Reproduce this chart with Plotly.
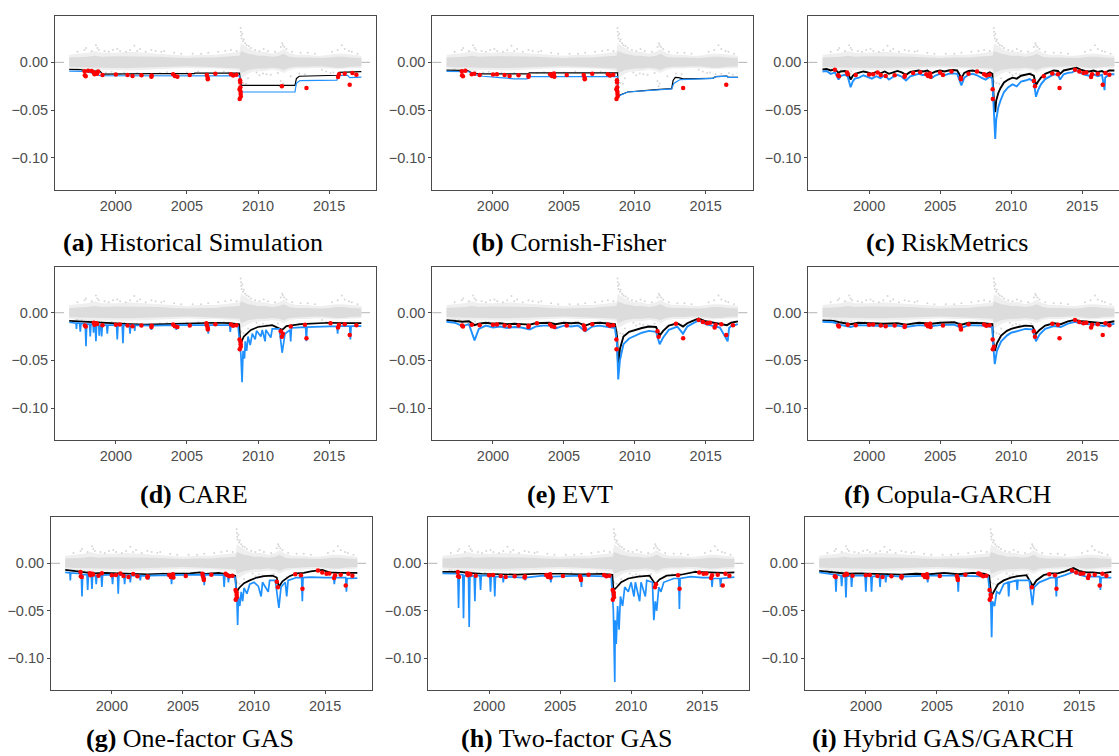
import numpy as np
import plotly.graph_objects as go

# ---------------- data ----------------
# return cloud (shared by all panels): envelope of the dense dot cloud
cloud_year = [1996.72, 1997.5, 1998.0, 1998.5, 1999.0, 2000.0, 2001.0, 2002.0, 2003.0, 2004.0, 2005.0,
              2006.0, 2007.0, 2007.6, 2008.3, 2008.7, 2008.8, 2009.0, 2009.3, 2009.7, 2010.0, 2010.5,
              2011.0, 2011.5, 2011.8, 2012.2, 2012.7, 2013.5, 2014.0, 2014.5, 2015.0, 2015.5, 2016.0,
              2016.5, 2017.27]
cloud_outer_hi = [0.008, 0.009, 0.010, 0.012, 0.010, 0.010, 0.011, 0.010, 0.009, 0.008, 0.007,
                  0.008, 0.008, 0.009, 0.010, 0.011, 0.020, 0.018, 0.015, 0.012, 0.011, 0.011,
                  0.009, 0.011, 0.014, 0.010, 0.008, 0.008, 0.007, 0.007, 0.008, 0.009, 0.009,
                  0.008, 0.007]
cloud_outer_lo = [-0.0065, -0.007, -0.008, -0.0095, -0.008, -0.008, -0.0085, -0.008, -0.007, -0.0065, -0.0058,
                  -0.0065, -0.0065, -0.007, -0.008, -0.009, -0.016, -0.015, -0.012, -0.0095, -0.009, -0.009,
                  -0.0075, -0.009, -0.011, -0.008, -0.0065, -0.0065, -0.0058, -0.0058, -0.0065, -0.007, -0.007,
                  -0.0065, -0.0058]
cloud_core_hi = [0.005, 0.0055, 0.006, 0.007, 0.006, 0.0065, 0.0065, 0.006, 0.006, 0.005, 0.0045,
                 0.005, 0.005, 0.006, 0.0065, 0.007, 0.012, 0.011, 0.009, 0.008, 0.007, 0.007,
                 0.006, 0.007, 0.009, 0.006, 0.005, 0.005, 0.0045, 0.0045, 0.005, 0.006, 0.006,
                 0.005, 0.0045]
cloud_core_lo = [-0.0045, -0.005, -0.0055, -0.006, -0.0055, -0.0058, -0.0058, -0.0055, -0.0055, -0.0045, -0.004,
                 -0.0045, -0.0045, -0.0055, -0.006, -0.0063, -0.011, -0.010, -0.008, -0.007, -0.0063, -0.0063,
                 -0.0055, -0.0063, -0.008, -0.0055, -0.0045, -0.0045, -0.004, -0.004, -0.0045, -0.0055, -0.0055,
                 -0.0045, -0.004]
# scattered large positive returns
gray_pts = [(1997.3, 0.011), (1997.8, 0.013), (1997.9, 0.015), (1998.3, 0.012), (1998.6, 0.018), (1998.7, 0.015),
            (1998.8, 0.013), (1999.2, 0.012), (1999.5, 0.011), (1999.8, 0.013), (2000.1, 0.014), (2000.3, 0.012),
            (2000.7, 0.011), (2001.0, 0.013), (2001.3, 0.0175), (2001.5, 0.012), (2001.7, 0.014), (2002.1, 0.011),
            (2002.5, 0.013), (2002.8, 0.012), (2003.2, 0.011), (2003.4, 0.012), (2004.1, 0.010), (2004.6, 0.009),
            (2005.4, 0.009), (2006.0, 0.009), (2006.5, 0.010), (2007.2, 0.011), (2007.7, 0.012), (2008.1, 0.013),
            (2008.5, 0.012), (2008.78, 0.036), (2008.80, 0.032), (2008.82, 0.028), (2008.85, 0.025), (2008.90, 0.030),
            (2008.95, 0.022), (2009.0, 0.024), (2009.1, 0.020), (2009.2, 0.018), (2009.35, 0.017), (2009.5, 0.015),
            (2009.8, 0.013), (2010.1, 0.012), (2010.4, 0.014), (2010.7, 0.012), (2011.2, 0.011), (2011.6, 0.016),
            (2011.7, 0.020), (2011.75, 0.018), (2011.85, 0.016), (2012.0, 0.014), (2012.4, 0.011), (2013.0, 0.010),
            (2013.5, 0.010), (2014.0, 0.009), (2015.2, 0.011), (2015.6, 0.013), (2015.9, 0.018), (2016.1, 0.014),
            (2016.4, 0.012), (2016.6, 0.011), (2017.0, 0.009)]
# large negative returns (candidate VaR violations, shared)
tail_pts = [(1997.20, -0.0074), (1997.35, -0.0072), (1997.59, -0.0077), (1997.80, -0.0092), (1997.82, -0.0135),
            (1997.88, -0.0145), (1998.05, -0.0088), (1998.30, -0.0090), (1998.45, -0.0105), (1998.50, -0.0125),
            (1998.62, -0.0110), (1998.68, -0.0118), (1998.75, -0.0095), (1999.06, -0.0132), (1999.30, -0.0105),
            (1999.70, -0.0098), (2000.00, -0.0127), (2000.28, -0.0123), (2000.60, -0.0106), (2000.82, -0.0133),
            (2001.17, -0.0143), (2001.50, -0.0112), (2001.80, -0.0135), (2002.50, -0.0150), (2002.52, -0.0137),
            (2003.10, -0.0110), (2003.60, -0.0104), (2004.03, -0.0123), (2004.15, -0.0143), (2004.30, -0.0116),
            (2004.33, -0.0150), (2005.00, -0.0105), (2005.20, -0.0133), (2005.80, -0.0096), (2006.37, -0.0110),
            (2006.40, -0.0133), (2006.46, -0.0160), (2006.47, -0.0177), (2007.00, -0.0120), (2007.60, -0.0096),
            (2007.90, -0.0106), (2008.00, -0.0110), (2008.10, -0.0123), (2008.25, -0.0137), (2008.48, -0.0130),
            (2008.70, -0.0280), (2008.71, -0.0384), (2008.74, -0.0186), (2008.75, -0.0210), (2008.76, -0.0260),
            (2008.77, -0.0306), (2008.78, -0.0330), (2008.79, -0.0358), (2008.80, -0.0200), (2008.97, -0.0216),
            (2009.16, -0.0223), (2009.30, -0.0165), (2009.90, -0.0106), (2010.10, -0.0135), (2010.35, -0.0116),
            (2010.60, -0.0125), (2010.90, -0.0130), (2011.40, -0.0112), (2011.60, -0.0195), (2011.68, -0.0251),
            (2011.75, -0.0220), (2012.30, -0.0145), (2012.90, -0.0116), (2013.30, -0.0125), (2013.41, -0.0268),
            (2014.50, -0.0076), (2014.80, -0.0096), (2015.10, -0.0110), (2015.30, -0.0106), (2015.63, -0.0154),
            (2015.70, -0.0125), (2016.10, -0.0120), (2016.45, -0.0234), (2016.64, -0.0110), (2016.92, -0.0130)]

# ---- VaR (black) and ES (blue) per model ----
hs_var = [(1996.72, -0.0073), (1997.5, -0.0075), (1997.85, -0.0085), (1998.5, -0.009), (1998.9, -0.0095),
          (1999.05, -0.0123), (2002.5, -0.0125), (2002.55, -0.0118), (2005.5, -0.0118), (2005.55, -0.0113),
          (2008.7, -0.0113), (2008.75, -0.018), (2008.85, -0.024), (2012.6, -0.024), (2012.7, -0.017),
          (2012.9, -0.0145), (2015.6, -0.0135), (2015.7, -0.0105), (2017.27, -0.0097)]
hs_es = [(1996.72, -0.0091), (1997.85, -0.0095), (1998.4, -0.0115), (1998.9, -0.014), (2008.7, -0.0142),
         (2008.75, -0.022), (2008.85, -0.031), (2012.6, -0.031), (2012.7, -0.022), (2012.95, -0.019),
         (2015.55, -0.0185), (2015.65, -0.014), (2016.3, -0.0135), (2016.45, -0.016), (2017.27, -0.0155)]

cf_var = [(1996.72, -0.0082), (1998.2, -0.0085), (1998.5, -0.011), (1999.0, -0.012), (2002.5, -0.012),
          (2002.55, -0.011), (2008.79, -0.011), (2008.81, -0.035), (2009.5, -0.031),
          (2010.5, -0.0295), (2011.5, -0.0285), (2012.6, -0.0275), (2012.7, -0.019), (2012.85, -0.0158),
          (2013.1, -0.016), (2013.4, -0.0172), (2015.5, -0.0168), (2015.7, -0.015), (2016.5, -0.0145),
          (2016.6, -0.0158), (2017.27, -0.0158)]
cf_es = [(1996.72, -0.0095), (1998.3, -0.0098), (1998.6, -0.0125), (1999.3, -0.0145), (2000.5, -0.016),
         (2001.5, -0.0172), (2002.4, -0.0172), (2002.55, -0.015), (2008.79, -0.0148),
         (2008.81, -0.0355), (2009.5, -0.031), (2010.5, -0.0297), (2011.5, -0.0287), (2012.6, -0.0277),
         (2012.75, -0.022), (2013.2, -0.018), (2015.5, -0.0168), (2015.7, -0.015), (2016.5, -0.0145),
         (2016.6, -0.0158), (2017.27, -0.0158)]

rm_var = [(1996.72, -0.0075), (1997.0, -0.007), (1997.3, -0.0085), (1997.6, -0.0072), (1997.85, -0.011),
          (1998.0, -0.0095), (1998.3, -0.009), (1998.5, -0.0105), (1998.7, -0.018), (1998.85, -0.014),
          (1999.0, -0.012), (1999.3, -0.011), (1999.6, -0.0095), (1999.9, -0.0105), (2000.2, -0.012),
          (2000.5, -0.010), (2000.8, -0.0115), (2001.1, -0.0095), (2001.4, -0.012), (2001.7, -0.0105),
          (2002.0, -0.009), (2002.3, -0.0105), (2002.6, -0.013), (2002.9, -0.010), (2003.2, -0.0095),
          (2003.5, -0.0085), (2003.8, -0.0095), (2004.1, -0.0085), (2004.4, -0.0115), (2004.7, -0.0095),
          (2005.0, -0.0085), (2005.3, -0.0095), (2005.6, -0.0085), (2005.9, -0.008), (2006.2, -0.0085),
          (2006.5, -0.0165), (2006.7, -0.011), (2007.0, -0.009), (2007.3, -0.0085), (2007.6, -0.0095),
          (2007.9, -0.011), (2008.2, -0.0125), (2008.5, -0.0105), (2008.68, -0.012), (2008.72, -0.025),
          (2008.80, -0.045), (2008.88, -0.052), (2008.95, -0.040), (2009.1, -0.032), (2009.25, -0.027),
          (2009.5, -0.021), (2009.8, -0.018), (2010.1, -0.016), (2010.4, -0.017), (2010.7, -0.014),
          (2011.0, -0.013), (2011.3, -0.012), (2011.6, -0.014), (2011.75, -0.024), (2011.9, -0.020),
          (2012.1, -0.016), (2012.4, -0.012), (2012.7, -0.0105), (2013.0, -0.0085), (2013.3, -0.009),
          (2013.45, -0.012), (2013.7, -0.0085), (2014.0, -0.0075), (2014.3, -0.007), (2014.6, -0.0055),
          (2014.9, -0.0075), (2015.2, -0.009), (2015.5, -0.0095), (2015.8, -0.0085), (2016.1, -0.010),
          (2016.4, -0.009), (2016.6, -0.011), (2016.9, -0.0085), (2017.27, -0.0085)]
rm_es = [(1996.72, -0.0095), (1997.0, -0.009), (1997.3, -0.012), (1997.6, -0.0105), (1997.85, -0.018),
         (1998.0, -0.014), (1998.3, -0.013), (1998.5, -0.015), (1998.7, -0.026), (1998.85, -0.020),
         (1999.0, -0.017), (1999.3, -0.016), (1999.6, -0.0135), (1999.9, -0.015), (2000.2, -0.017),
         (2000.5, -0.0145), (2000.8, -0.0165), (2001.1, -0.0135), (2001.4, -0.018), (2001.7, -0.015),
         (2002.0, -0.013), (2002.3, -0.015), (2002.6, -0.019), (2002.9, -0.0145), (2003.2, -0.0135),
         (2003.5, -0.012), (2003.8, -0.0135), (2004.1, -0.012), (2004.4, -0.0165), (2004.7, -0.0135),
         (2005.0, -0.012), (2005.3, -0.0135), (2005.6, -0.012), (2005.9, -0.0115), (2006.2, -0.012),
         (2006.5, -0.024), (2006.7, -0.016), (2007.0, -0.013), (2007.3, -0.012), (2007.6, -0.0135),
         (2007.9, -0.016), (2008.2, -0.018), (2008.5, -0.015), (2008.68, -0.017), (2008.75, -0.040),
         (2008.88, -0.080), (2008.95, -0.060), (2009.1, -0.047), (2009.25, -0.040), (2009.5, -0.031),
         (2009.8, -0.026), (2010.1, -0.023), (2010.4, -0.025), (2010.7, -0.020), (2011.0, -0.019),
         (2011.3, -0.0175), (2011.6, -0.020), (2011.75, -0.036), (2011.9, -0.029), (2012.1, -0.023),
         (2012.4, -0.0175), (2012.7, -0.015), (2013.0, -0.0125), (2013.3, -0.013), (2013.45, -0.018),
         (2013.7, -0.0125), (2014.0, -0.011), (2014.3, -0.0105), (2014.6, -0.008), (2014.9, -0.011),
         (2015.2, -0.013), (2015.5, -0.014), (2015.8, -0.0125), (2016.1, -0.0145), (2016.4, -0.013),
         (2016.58, -0.029), (2016.62, -0.016), (2016.9, -0.0125), (2017.27, -0.0125)]

care_var = [(1996.72, -0.0085), (1998.0, -0.0095), (1999.0, -0.011), (2000.0, -0.0115), (2001.0, -0.012),
            (2002.0, -0.0125), (2003.0, -0.012), (2004.0, -0.012), (2005.0, -0.0115), (2006.0, -0.011),
            (2007.0, -0.0105), (2008.0, -0.011), (2008.68, -0.012), (2008.74, -0.028), (2008.85, -0.030),
            (2009.0, -0.025), (2009.5, -0.018), (2010.0, -0.015), (2011.0, -0.013), (2011.7, -0.018),
            (2012.0, -0.014), (2013.0, -0.012), (2014.0, -0.011), (2015.0, -0.0105), (2016.0, -0.011),
            (2017.27, -0.011)]
care_es = [(1996.72, -0.010), (1997.2, -0.011), (1997.23, -0.017), (1997.26, -0.011), (1997.45, -0.011),
           (1997.5, -0.020), (1997.55, -0.011), (1997.85, -0.012), (1997.9, -0.035), (1997.95, -0.012),
           (1998.15, -0.012), (1998.2, -0.025), (1998.25, -0.012), (1998.4, -0.012), (1998.43, -0.021),
           (1998.46, -0.012), (1998.55, -0.013), (1998.6, -0.030), (1998.65, -0.013), (1998.8, -0.013),
           (1998.83, -0.024), (1998.86, -0.013), (1998.95, -0.013), (1999.0, -0.025), (1999.05, -0.013),
           (1999.35, -0.013), (1999.4, -0.022), (1999.45, -0.013), (2000.05, -0.013), (2000.1, -0.028),
           (2000.15, -0.013), (2000.45, -0.013), (2000.5, -0.032), (2000.55, -0.013), (2000.95, -0.013),
           (2001.0, -0.022), (2001.05, -0.013), (2001.3, -0.013), (2001.33, -0.019), (2001.36, -0.013),
           (2002.45, -0.0135), (2002.5, -0.018), (2002.55, -0.0135), (2004.2, -0.013), (2004.25, -0.018),
           (2004.3, -0.013), (2006.45, -0.013), (2006.5, -0.022), (2006.55, -0.013), (2008.0, -0.013),
           (2008.05, -0.02), (2008.1, -0.013), (2008.6, -0.014), (2008.8, -0.045), (2008.88, -0.073),
           (2008.95, -0.040), (2009.05, -0.048), (2009.1, -0.030), (2009.2, -0.040), (2009.3, -0.025),
           (2009.45, -0.034), (2009.6, -0.022), (2009.8, -0.028), (2009.9, -0.019), (2010.2, -0.025),
           (2010.3, -0.018), (2010.5, -0.030), (2010.55, -0.018), (2010.9, -0.026), (2011.0, -0.017),
           (2011.5, -0.017), (2011.7, -0.042), (2011.9, -0.022), (2012.25, -0.018), (2012.3, -0.030),
           (2012.35, -0.016), (2013.35, -0.015), (2013.4, -0.030), (2013.45, -0.015), (2015.55, -0.014),
           (2015.6, -0.022), (2015.65, -0.014), (2016.45, -0.014), (2016.5, -0.028), (2016.55, -0.014),
           (2017.27, -0.014)]

evt_var = [(1996.72, -0.0077), (1997.3, -0.0085), (1997.85, -0.0095), (1998.3, -0.009), (1998.7, -0.013),
           (1999.0, -0.0115), (1999.5, -0.0105), (2000.0, -0.0115), (2000.5, -0.011), (2001.0, -0.012),
           (2001.5, -0.0115), (2002.0, -0.012), (2002.6, -0.0125), (2003.0, -0.011), (2003.5, -0.0105),
           (2004.0, -0.0105), (2004.4, -0.012), (2005.0, -0.0105), (2005.5, -0.011), (2006.0, -0.0105),
           (2006.5, -0.0135), (2007.0, -0.011), (2007.5, -0.0105), (2008.0, -0.011), (2008.6, -0.012),
           (2008.75, -0.025), (2008.83, -0.060), (2008.95, -0.038), (2009.2, -0.025), (2009.6, -0.020),
           (2010.0, -0.018), (2010.5, -0.016), (2011.0, -0.0145), (2011.5, -0.015), (2011.75, -0.024),
           (2012.0, -0.019), (2012.4, -0.0135), (2013.0, -0.011), (2013.4, -0.0145), (2013.7, -0.011),
           (2014.0, -0.009), (2014.5, -0.006), (2015.0, -0.009), (2015.5, -0.0105), (2016.0, -0.0115),
           (2016.5, -0.013), (2016.8, -0.0105), (2017.27, -0.009)]
evt_es = [(1996.72, -0.0095), (1997.3, -0.0105), (1997.85, -0.014), (1998.3, -0.012), (1998.7, -0.029),
          (1999.0, -0.017), (1999.5, -0.0135), (2000.0, -0.0155), (2000.5, -0.0145), (2001.0, -0.016),
          (2001.5, -0.015), (2002.0, -0.0155), (2002.6, -0.0175), (2003.0, -0.0145), (2003.5, -0.0135),
          (2004.0, -0.0135), (2004.4, -0.0165), (2005.0, -0.0135), (2005.5, -0.0145), (2006.0, -0.0135),
          (2006.5, -0.0195), (2007.0, -0.0145), (2007.5, -0.0135), (2008.0, -0.0145), (2008.6, -0.016),
          (2008.75, -0.033), (2008.83, -0.070), (2008.95, -0.050), (2009.2, -0.033), (2009.6, -0.027),
          (2010.0, -0.024), (2010.5, -0.021), (2011.0, -0.019), (2011.5, -0.020), (2011.75, -0.033),
          (2012.0, -0.026), (2012.4, -0.018), (2013.0, -0.0145), (2013.4, -0.022), (2013.7, -0.0145),
          (2014.0, -0.012), (2014.5, -0.008), (2015.0, -0.012), (2015.5, -0.014), (2016.0, -0.0155),
          (2016.55, -0.030), (2016.65, -0.016), (2016.8, -0.014), (2017.27, -0.012)]

cop_var = [(1996.72, -0.008), (1997.5, -0.0085), (1997.9, -0.010), (1998.7, -0.012), (1999.2, -0.0105),
           (2000.0, -0.011), (2001.0, -0.0115), (2002.0, -0.011), (2002.6, -0.0125), (2003.5, -0.0105),
           (2004.4, -0.0115), (2005.0, -0.0105), (2006.0, -0.010), (2006.5, -0.0125), (2007.0, -0.0105),
           (2008.0, -0.011), (2008.68, -0.012), (2008.74, -0.030), (2008.85, -0.040), (2009.0, -0.032),
           (2009.3, -0.024), (2009.7, -0.019), (2010.0, -0.017), (2010.5, -0.015), (2011.0, -0.0135),
           (2011.5, -0.014), (2011.75, -0.022), (2012.0, -0.018), (2012.4, -0.0135), (2013.0, -0.011),
           (2013.5, -0.012), (2014.0, -0.009), (2014.5, -0.0075), (2015.0, -0.009), (2015.5, -0.0095),
           (2016.0, -0.010), (2016.5, -0.011), (2017.27, -0.009)]
cop_es = [(1996.72, -0.0095), (1997.5, -0.010), (1997.9, -0.0125), (1998.7, -0.015), (1999.2, -0.013),
          (2000.0, -0.0135), (2001.0, -0.014), (2002.0, -0.0135), (2002.6, -0.015), (2003.5, -0.013),
          (2004.4, -0.014), (2005.0, -0.013), (2006.0, -0.0125), (2006.5, -0.016), (2007.0, -0.013),
          (2008.0, -0.0135), (2008.68, -0.015), (2008.75, -0.036), (2008.85, -0.054), (2009.0, -0.040),
          (2009.3, -0.030), (2009.7, -0.024), (2010.0, -0.021), (2010.5, -0.019), (2011.0, -0.017),
          (2011.5, -0.0175), (2011.75, -0.030), (2012.0, -0.023), (2012.4, -0.017), (2013.0, -0.014),
          (2013.5, -0.015), (2014.0, -0.0115), (2014.5, -0.0095), (2015.0, -0.0115), (2015.5, -0.012),
          (2016.0, -0.0125), (2016.5, -0.014), (2017.27, -0.0115)]

gas1_var = [(1996.72, -0.007), (1997.5, -0.0085), (1998.0, -0.0095), (1998.7, -0.0105), (1999.5, -0.010),
            (2000.5, -0.0105), (2001.5, -0.011), (2002.5, -0.0115), (2003.5, -0.011), (2004.5, -0.011),
            (2005.5, -0.0105), (2006.2, -0.0095), (2006.6, -0.011), (2007.5, -0.010), (2008.3, -0.0115),
            (2008.68, -0.013), (2008.74, -0.026), (2008.8, -0.030), (2008.95, -0.026), (2009.3, -0.021),
            (2009.7, -0.018), (2010.2, -0.015), (2010.7, -0.0135), (2011.3, -0.013), (2011.6, -0.015),
            (2011.75, -0.025), (2012.0, -0.019), (2012.5, -0.0135), (2013.0, -0.0105), (2013.5, -0.010),
            (2014.0, -0.0085), (2014.8, -0.007), (2015.3, -0.0095), (2016.0, -0.010), (2017.27, -0.010)]
gas1_es = [(1996.72, -0.0095), (1997.05, -0.010), (1997.08, -0.018), (1997.11, -0.010), (1997.85, -0.011),
           (1997.9, -0.035), (1997.95, -0.012), (1998.25, -0.012), (1998.3, -0.028), (1998.35, -0.012),
           (1998.55, -0.012), (1998.6, -0.027), (1998.65, -0.013), (1998.85, -0.013), (1998.9, -0.022),
           (1998.95, -0.013), (1999.25, -0.0125), (1999.3, -0.025), (1999.35, -0.0125), (2000.0, -0.012),
           (2000.05, -0.022), (2000.1, -0.012), (2000.4, -0.0125), (2000.45, -0.032), (2000.5, -0.0125),
           (2000.85, -0.0125), (2000.9, -0.022), (2000.95, -0.0125), (2001.25, -0.013), (2001.3, -0.020),
           (2001.35, -0.013), (2001.95, -0.013), (2002.0, -0.018), (2002.05, -0.013), (2002.55, -0.0135),
           (2002.6, -0.017), (2002.65, -0.013), (2004.15, -0.0125), (2004.2, -0.022), (2004.25, -0.0125),
           (2006.45, -0.012), (2006.5, -0.023), (2006.55, -0.012), (2007.85, -0.0125), (2007.9, -0.025),
           (2007.95, -0.013), (2008.15, -0.013), (2008.2, -0.020), (2008.25, -0.0135), (2008.68, -0.015),
           (2008.8, -0.040), (2008.85, -0.065), (2008.9, -0.035), (2009.0, -0.045), (2009.1, -0.030),
           (2009.2, -0.040), (2009.3, -0.026), (2009.5, -0.032), (2009.7, -0.022), (2010.0, -0.020),
           (2010.3, -0.024), (2010.5, -0.035), (2010.6, -0.020), (2011.0, -0.030), (2011.1, -0.018),
           (2011.5, -0.018), (2011.75, -0.047), (2011.9, -0.025), (2012.2, -0.020), (2012.3, -0.035),
           (2012.4, -0.018), (2013.0, -0.015), (2013.35, -0.015), (2013.4, -0.040), (2013.45, -0.015),
           (2014.0, -0.0145), (2015.0, -0.015), (2015.6, -0.015), (2015.65, -0.022), (2015.7, -0.015),
           (2016.45, -0.015), (2016.5, -0.030), (2016.55, -0.016), (2017.27, -0.0155)]

gas2_var = [(1996.72, -0.009), (1998.0, -0.009), (1998.5, -0.010), (1999.5, -0.011), (2002.0, -0.012),
            (2003.5, -0.011), (2005.0, -0.011), (2006.5, -0.0115), (2008.0, -0.011), (2008.68, -0.012),
            (2008.74, -0.025), (2008.8, -0.028), (2009.0, -0.025), (2009.3, -0.020), (2009.8, -0.016),
            (2010.5, -0.014), (2011.3, -0.013), (2011.7, -0.022), (2012.0, -0.017), (2012.5, -0.013),
            (2013.5, -0.012), (2014.5, -0.009), (2015.5, -0.0095), (2016.5, -0.010), (2017.27, -0.0095)]
gas2_es = [(1996.72, -0.0105), (1997.8, -0.011), (1997.85, -0.047), (1997.9, -0.012), (1998.15, -0.012),
           (1998.2, -0.058), (1998.25, -0.013), (1998.55, -0.013), (1998.6, -0.067), (1998.65, -0.014),
           (1998.95, -0.013), (1999.0, -0.040), (1999.05, -0.013), (1999.35, -0.013), (1999.4, -0.028),
           (1999.45, -0.013), (2000.05, -0.013), (2000.1, -0.030), (2000.15, -0.013), (2000.35, -0.013),
           (2000.4, -0.035), (2000.45, -0.014), (2000.95, -0.014), (2001.0, -0.020), (2001.05, -0.014),
           (2002.5, -0.015), (2002.55, -0.018), (2002.6, -0.015), (2003.8, -0.013), (2004.3, -0.015),
           (2004.35, -0.020), (2004.4, -0.014), (2006.45, -0.013), (2006.5, -0.025), (2006.55, -0.013),
           (2008.6, -0.014), (2008.75, -0.050), (2008.8, -0.090), (2008.85, -0.125), (2008.88, -0.060),
           (2008.95, -0.085), (2009.05, -0.045), (2009.15, -0.070), (2009.25, -0.035), (2009.4, -0.045),
           (2009.55, -0.025), (2009.8, -0.030), (2010.0, -0.020), (2010.2, -0.035), (2010.3, -0.020),
           (2010.6, -0.040), (2010.7, -0.020), (2011.0, -0.035), (2011.1, -0.018), (2011.5, -0.020),
           (2011.6, -0.060), (2011.7, -0.040), (2011.8, -0.050), (2011.95, -0.025), (2012.1, -0.030),
           (2012.3, -0.020), (2013.0, -0.016), (2013.35, -0.016), (2013.4, -0.048), (2013.45, -0.016),
           (2014.2, -0.014), (2015.0, -0.015), (2015.65, -0.015), (2015.7, -0.025), (2015.75, -0.016),
           (2016.25, -0.016), (2016.3, -0.025), (2016.35, -0.016), (2017.27, -0.0145)]

hyb_var = [(1996.72, -0.008), (1997.5, -0.009), (1998.0, -0.010), (1998.7, -0.011), (1999.5, -0.0105),
           (2000.5, -0.011), (2001.5, -0.0115), (2002.5, -0.012), (2003.5, -0.011), (2004.5, -0.0115),
           (2005.5, -0.010), (2006.5, -0.0115), (2007.5, -0.010), (2008.3, -0.011), (2008.68, -0.013),
           (2008.74, -0.028), (2008.82, -0.035), (2009.0, -0.030), (2009.3, -0.022), (2009.7, -0.018),
           (2010.2, -0.015), (2010.7, -0.0135), (2011.3, -0.0125), (2011.75, -0.024), (2012.0, -0.018),
           (2012.5, -0.0125), (2013.0, -0.0105), (2013.5, -0.0105), (2014.0, -0.0085), (2014.6, -0.005),
           (2015.0, -0.008), (2015.5, -0.0095), (2016.0, -0.0095), (2016.6, -0.0105), (2017.27, -0.009)]
hyb_es = [(1996.72, -0.0095), (1997.85, -0.012), (1997.9, -0.030), (1997.95, -0.012), (1998.25, -0.013),
          (1998.3, -0.024), (1998.35, -0.013), (1998.55, -0.013), (1998.6, -0.036), (1998.65, -0.014),
          (1998.95, -0.013), (1999.0, -0.025), (1999.05, -0.013), (1999.95, -0.013), (2000.0, -0.030),
          (2000.05, -0.013), (2000.35, -0.013), (2000.4, -0.030), (2000.45, -0.014), (2000.95, -0.013),
          (2001.0, -0.025), (2001.05, -0.013), (2001.35, -0.013), (2001.4, -0.020), (2001.45, -0.013),
          (2002.5, -0.014), (2002.55, -0.018), (2002.6, -0.014), (2004.3, -0.013), (2004.35, -0.020),
          (2004.4, -0.013), (2006.45, -0.013), (2006.5, -0.030), (2006.55, -0.013), (2008.6, -0.014),
          (2008.8, -0.045), (2008.85, -0.078), (2008.9, -0.040), (2009.05, -0.045), (2009.2, -0.030),
          (2009.4, -0.032), (2009.7, -0.022), (2010.0, -0.020), (2010.05, -0.035), (2010.1, -0.020),
          (2010.6, -0.018), (2010.65, -0.028), (2010.7, -0.018), (2011.5, -0.018), (2011.72, -0.044),
          (2011.85, -0.025), (2012.2, -0.020), (2013.0, -0.015), (2013.35, -0.015), (2013.4, -0.035),
          (2013.45, -0.015), (2014.0, -0.0125), (2014.6, -0.009), (2015.0, -0.012), (2015.5, -0.014),
          (2016.45, -0.014), (2016.5, -0.028), (2016.55, -0.015), (2017.27, -0.015)]

panel_letters = ["a", "b", "c", "d", "e", "f", "g", "h", "i"]
panel_names = ["Historical Simulation", "Cornish-Fisher", "RiskMetrics", "CARE", "EVT",
               "Copula-GARCH", "One-factor GAS", "Two-factor GAS", "Hybrid GAS/GARCH"]
panel_var = [hs_var, cf_var, rm_var, care_var, evt_var, cop_var, gas1_var, gas2_var, hyb_var]
panel_es = [hs_es, cf_es, rm_es, care_es, evt_es, cop_es, gas1_es, gas2_es, hyb_es]
panel_lw = [1.2, 1.2, 1.9, 1.7, 1.9, 1.9, 1.7, 1.7, 1.8]

x_ticks = [2000, 2005, 2010, 2015]
y_ticks = [0.0, -0.05, -0.10]

# ---------------- layout geometry (pixels) ----------------
W, H = 1119, 756
row_px = [(16, 190), (266.5, 440), (517.3, 690)]
col_px = [[(55, 376), (432.3, 752.5), (808.3, 1129)],
          [(55, 376), (432.3, 752.5), (808.3, 1129)],
          [(51, 372), (428.3, 749), (805, 1126)]]
cap_px = [[(193, 243), (569.5, 243), (947, 243)],
          [(194, 494), (570, 494), (947, 494)],
          [(190, 738), (566.7, 738), (943.3, 738)]]
XMIN, XMAX = 1995.72, 2018.30
YMIN, YMAX = -0.1335, 0.0485

BLUE = "#1E90FF"
FRAME = "#4a4a4a"

fig = go.Figure()
layout = dict(width=W, height=H, margin=dict(l=0, r=0, t=0, b=0),
              paper_bgcolor="white", plot_bgcolor="white", showlegend=False)
shapes, annotations = [], []

for k in range(9):
    r, c = divmod(k, 3)
    sfx = "" if k == 0 else str(k + 1)
    xa, ya = "x" + sfx, "y" + sfx
    x0p, x1p = col_px[r][c]
    y0p, y1p = row_px[r]
    xmax = XMAX
    right_cut = x1p > W
    if right_cut:
        xmax = XMIN + (W - x0p) * (XMAX - XMIN) / (x1p - x0p)
        x1p = W
    layout["xaxis" + sfx] = dict(
        domain=[x0p / W, x1p / W], anchor=ya, range=[XMIN, xmax],
        tickmode="array", tickvals=x_ticks, ticktext=[str(v) for v in x_ticks],
        showgrid=False, zeroline=False, showline=True, mirror=True, linecolor=FRAME, linewidth=1,
        ticks="outside", ticklen=3, tickcolor=FRAME, tickwidth=1,
        tickfont=dict(family="Liberation Sans, Arial, sans-serif", size=14.5, color="#4D4D4D"))
    layout["yaxis" + sfx] = dict(
        domain=[1 - y1p / H, 1 - y0p / H], anchor=xa, range=[YMIN, YMAX],
        tickmode="array", tickvals=y_ticks, tickformat=".2f",
        showgrid=False, zeroline=False, showline=True, mirror=not right_cut, linecolor=FRAME, linewidth=1,
        ticks="outside", ticklen=3, tickcolor=FRAME, tickwidth=1,
        tickfont=dict(family="Liberation Sans, Arial, sans-serif", size=14.5, color="#4D4D4D"))

    # return cloud: outer sparse band, dense core, scattered dots
    fig.add_trace(go.Scatter(x=cloud_year + cloud_year[::-1], y=cloud_outer_hi + cloud_outer_lo[::-1],
                             fill="toself", fillcolor="#efefef", line=dict(width=0), mode="lines",
                             hoverinfo="skip", xaxis=xa, yaxis=ya))
    fig.add_trace(go.Scatter(x=cloud_year + cloud_year[::-1], y=cloud_core_hi + cloud_core_lo[::-1],
                             fill="toself", fillcolor="#dcdcdc", line=dict(width=0), mode="lines",
                             hoverinfo="skip", xaxis=xa, yaxis=ya))
    fig.add_trace(go.Scatter(x=[p[0] for p in gray_pts], y=[p[1] for p in gray_pts], mode="markers",
                             marker=dict(size=2, color="#d6d6d6"), xaxis=xa, yaxis=ya))
    fig.add_trace(go.Scatter(x=[p[0] for p in tail_pts], y=[p[1] for p in tail_pts], mode="markers",
                             marker=dict(size=2, color="#d6d6d6"), xaxis=xa, yaxis=ya))

    shapes.append(dict(type="line", xref=xa + " domain", yref=ya, x0=0, x1=1, y0=0, y1=0,
                       layer="below", line=dict(color="#a0a0a0", width=0.8, dash="dash")))

    var_t = [p[0] for p in panel_var[k]]
    var_v = [p[1] for p in panel_var[k]]
    es_t = [p[0] for p in panel_es[k]]
    es_v = [p[1] for p in panel_es[k]]
    fig.add_trace(go.Scatter(x=var_t, y=var_v, mode="lines", line=dict(color="black", width=panel_lw[k]),
                             xaxis=xa, yaxis=ya))
    fig.add_trace(go.Scatter(x=es_t, y=es_v, mode="lines", line=dict(color=BLUE, width=panel_lw[k]),
                             xaxis=xa, yaxis=ya))

    # violations: returns below the model's VaR
    tt = np.array([p[0] for p in tail_pts])
    rv = np.array([p[1] for p in tail_pts])
    mask = rv < np.interp(tt, var_t, var_v)
    fig.add_trace(go.Scatter(x=tt[mask], y=rv[mask], mode="markers",
                             marker=dict(size=4.5, color="#ff0000"), xaxis=xa, yaxis=ya))

    cx, cy = cap_px[r][c]
    annotations.append(dict(text="<b>(%s)</b> %s" % (panel_letters[k], panel_names[k]),
                            x=cx / W, y=1 - cy / H, xref="paper", yref="paper",
                            xanchor="center", yanchor="middle", showarrow=False,
                            font=dict(family="Liberation Serif, Times New Roman, serif", size=26, color="black")))

layout["shapes"] = shapes
layout["annotations"] = annotations
fig.update_layout(**layout)
fig.write_html("out.html")
